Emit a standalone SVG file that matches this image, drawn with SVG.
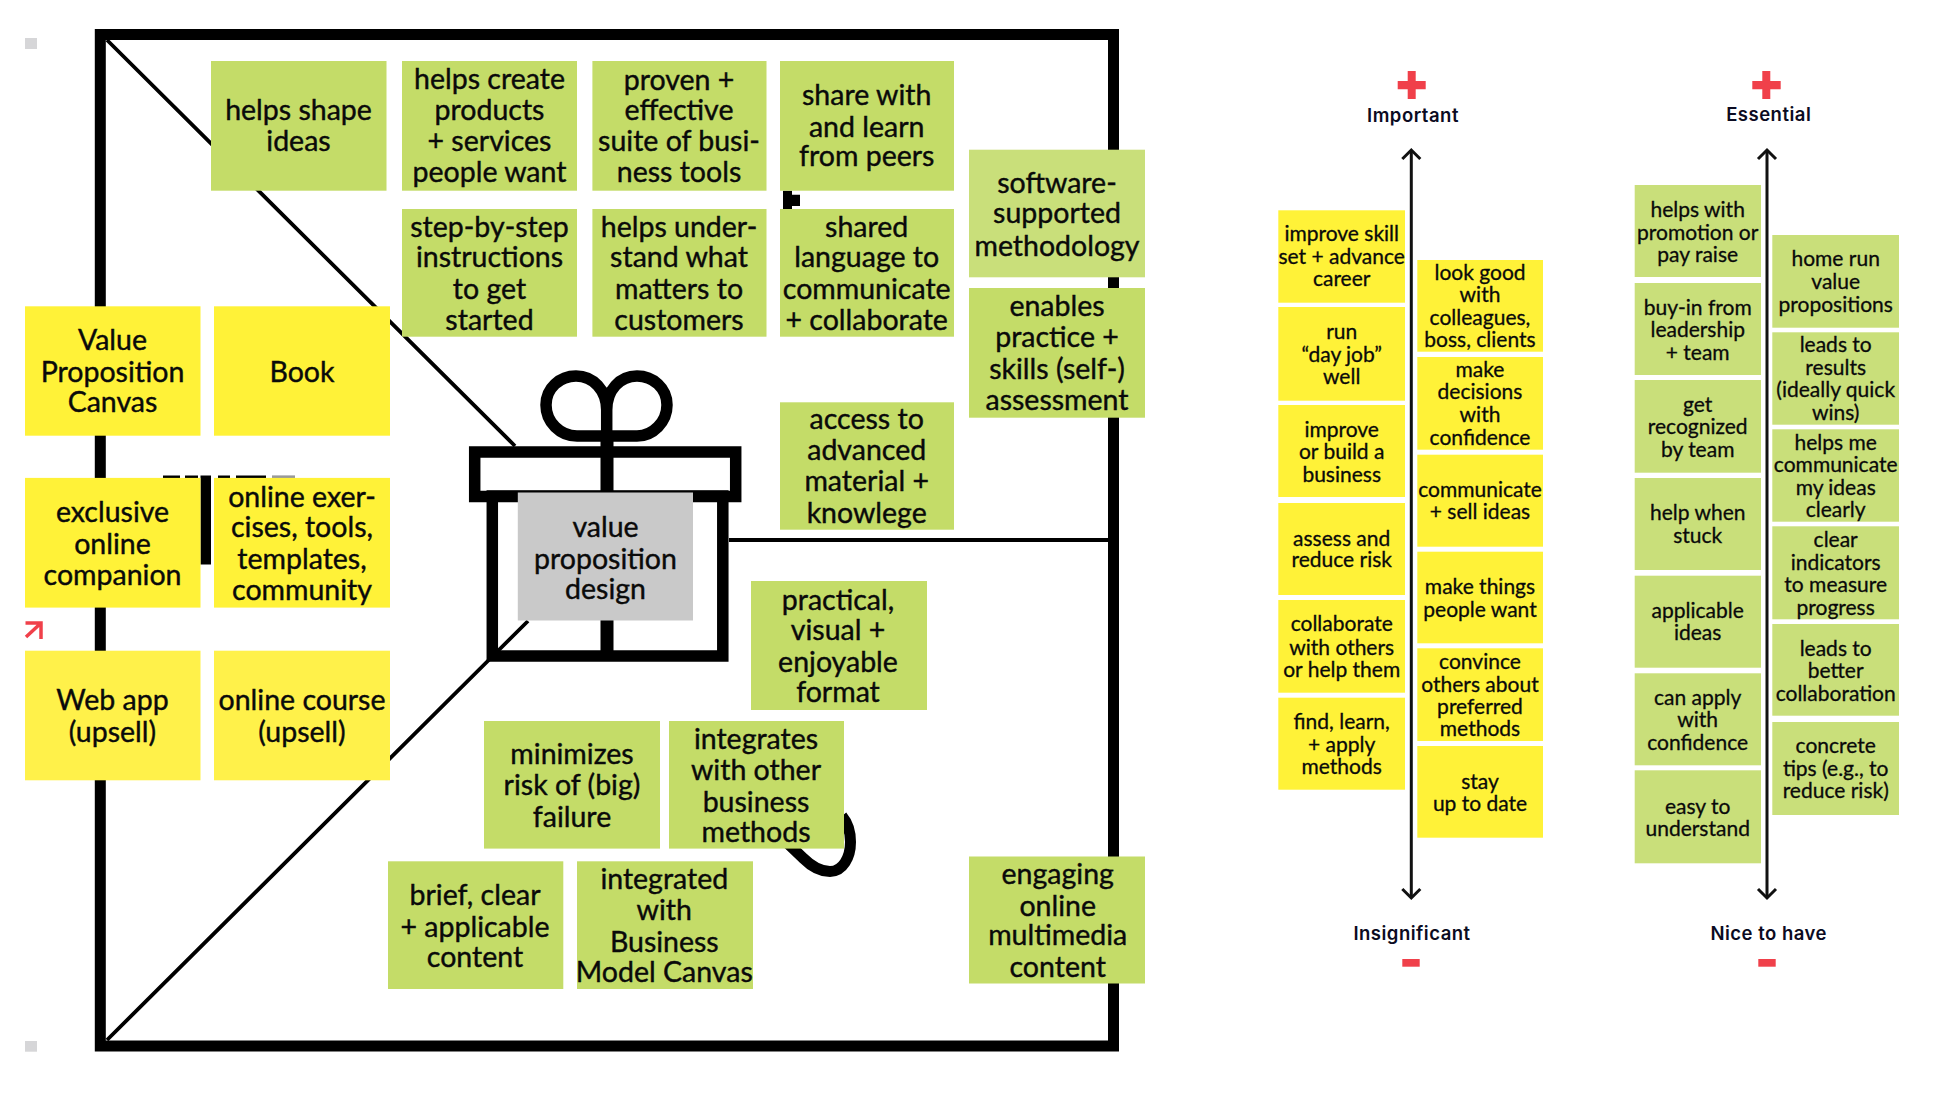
<svg xmlns="http://www.w3.org/2000/svg" width="1952" height="1094" viewBox="0 0 1952 1094">
<defs>
<style>
.g{fill:#c4dc68}.gl{fill:#c9df7a}.y{fill:#fff238}.yl{fill:#fff14a}.gr{fill:#c9c9c9}
.t{font-family:"Lato","Open Sans",sans-serif;font-size:28.5px;font-weight:400;fill:#0a0a0a;text-anchor:middle;stroke:#0a0a0a;stroke-width:.4px;transform:translateY(.7px)}
.s{font-size:21px;stroke-width:.3px}
.h{font-family:"Inter","Liberation Sans",sans-serif;font-size:18.5px;letter-spacing:.5px;font-weight:600;fill:#0b0b22;text-anchor:middle}
.k{fill:none;stroke:#000;stroke-width:11.5}
.l{fill:none;stroke:#000}
.a{fill:none;stroke:#111;stroke-width:3;marker-start:url(#head);marker-end:url(#head)}
.r{fill:#f0404a}
.sq{fill:#d6d6d8}
</style>
<marker id="head" markerUnits="userSpaceOnUse" markerWidth="24" markerHeight="24" viewBox="-12 -12 24 24" refX="0" refY="0" orient="auto-start-reverse"><path d="M-9-9L0 0L-9 9" fill="none" stroke="#111" stroke-width="3"/></marker>
</defs>
<rect width="1952" height="1094" fill="#fff"/>
<g id="connectors">
<rect class="k" style="stroke-width:11" x="100.3" y="34.5" width="1013.2" height="1011.5"/>
<path class="l" stroke-width="3.8" d="M107 40L515 446M107 1040L528 621"/>
<path class="l" stroke-width="4" d="M729 540H1108"/>
<line class="a" x1="1411.3" y1="150" x2="1411.3" y2="898"/>
<line class="a" x1="1767" y1="150" x2="1767" y2="898"/>
</g>
<g id="gift">
<path class="k" d="M606.7 436H577C560 436 546 422 546 405C546 388 560 376 576 376C593 376 606.7 390 606.7 410V436H637C653 436 667 422 667 405C667 388 653 376 637 376C620 376 606.7 390 606.7 410"/>
<rect x="600.5" y="436" width="13" height="220" fill="#000"/>
<rect class="k" x="474.7" y="452" width="261" height="44.5"/>
<rect class="k" x="492.3" y="496" width="230.5" height="160"/>
<path class="k" style="stroke-width:11" d="M780 836L803 858C813 868 823 871.5 830 871.5C843 871.5 850.5 857 850.5 842C850.5 832 847 822 842 816"/>
</g>
<g id="marks">
<rect class="sq" x="25" y="38" width="12" height="11"/>
<rect class="sq" x="25" y="1041" width="12" height="10.7"/>
<path d="M783 190.7h9v4h8v11.3h-8v3h-9z" fill="#000"/>
<path d="M200.5 475.4H211V564.5H200.5zM163 475.4h17v3.4h-17zM185 475.4h13v3.4h-13zM218 475.4h12v3.4h-12zM236 475.4h30v3.4h-30z" fill="#000"/>
<rect x="272" y="475.4" width="23" height="3.4" fill="#999"/>
<path d="M25.5 623H41V639M41 623L26 637" fill="none" stroke="#f0404a" stroke-width="3.5"/>
</g>
<g id="n1"><rect class="g" x="211" y="61" width="175.5" height="129.7"/><text class="t"><tspan x="298.5" y="119">helps shape</tspan><tspan x="298.5" y="150.7">ideas</tspan></text></g>
<g id="n2"><rect class="g" x="402" y="61" width="175" height="129.7"/><text class="t"><tspan x="489.5" y="88.3">helps create</tspan><tspan x="489.5" y="119">products</tspan><tspan x="489.5" y="150.7">+ services</tspan><tspan x="489.5" y="181">people want</tspan></text></g>
<g id="n3"><rect class="g" x="592.4" y="61" width="174.1" height="129.7"/><text class="t"><tspan x="679" y="89">proven +</tspan><tspan x="679" y="119">effective</tspan><tspan x="679" y="150.7">suite of busi-</tspan><tspan x="679" y="181">ness tools</tspan></text></g>
<g id="n4"><rect class="g" x="780" y="61" width="174" height="129.7"/><text class="t"><tspan x="866.7" y="104.3">share with</tspan><tspan x="866.7" y="136">and learn</tspan><tspan x="866.7" y="165.7">from peers</tspan></text></g>
<g id="n5"><rect class="g" x="402" y="209" width="175" height="127.7"/><text class="t"><tspan x="489.5" y="236">step-by-step</tspan><tspan x="489.5" y="266.7">instructions</tspan><tspan x="489.5" y="298">to get</tspan><tspan x="489.5" y="329">started</tspan></text></g>
<g id="n6"><rect class="g" x="592.4" y="209" width="174.1" height="127.7"/><text class="t"><tspan x="679" y="236">helps under-</tspan><tspan x="679" y="266.7">stand what</tspan><tspan x="679" y="298">matters to</tspan><tspan x="679" y="329">customers</tspan></text></g>
<g id="n7"><rect class="g" x="780" y="209" width="174" height="127.7"/><text class="t"><tspan x="866.7" y="236">shared</tspan><tspan x="866.7" y="266.7">language to</tspan><tspan x="866.7" y="298">communicate</tspan><tspan x="866.7" y="329">+ collaborate</tspan></text></g>
<g id="n8"><rect class="gl" x="969" y="149.7" width="176" height="127.6"/><text class="t"><tspan x="1057" y="192.7">software-</tspan><tspan x="1057" y="222.3">supported</tspan><tspan x="1057" y="255">methodology</tspan></text></g>
<g id="n9"><rect class="g" x="969" y="288" width="176" height="129.7"/><text class="t"><tspan x="1057" y="315">enables</tspan><tspan x="1057" y="346.7">practice +</tspan><tspan x="1057" y="378">skills (self-)</tspan><tspan x="1057" y="409.3">assessment</tspan></text></g>
<g id="n10"><rect class="g" x="780" y="402.3" width="174" height="127.4"/><text class="t"><tspan x="866.7" y="428">access to</tspan><tspan x="866.7" y="459.3">advanced</tspan><tspan x="866.7" y="490">material +</tspan><tspan x="866.7" y="522.6">knowlege</tspan></text></g>
<g id="n11"><rect class="y" x="25" y="306.3" width="175.5" height="129.4"/><text class="t"><tspan x="112.5" y="349">Value</tspan><tspan x="112.5" y="381">Proposition</tspan><tspan x="112.5" y="411.7">Canvas</tspan></text></g>
<g id="n12"><rect class="y" x="214" y="306.3" width="176" height="129.4"/><text class="t" x="302" y="381">Book</text></g>
<g id="n13"><rect class="y" x="25" y="477.9" width="175.5" height="129.7"/><text class="t"><tspan x="112.5" y="521.3">exclusive</tspan><tspan x="112.5" y="553.8">online</tspan><tspan x="112.5" y="584.3">companion</tspan></text></g>
<g id="n14"><rect class="y" x="214" y="477.9" width="176" height="129.7"/><text class="t"><tspan x="302" y="506">online exer-</tspan><tspan x="302" y="536.5">cises, tools,</tspan><tspan x="302" y="568.5">templates,</tspan><tspan x="302" y="599.5">community</tspan></text></g>
<g id="n15"><rect class="yl" x="25" y="650.7" width="175.5" height="129.6"/><text class="t"><tspan x="112.5" y="709">Web app</tspan><tspan x="112.5" y="741">(upsell)</tspan></text></g>
<g id="n16"><rect class="yl" x="214" y="650.7" width="176" height="129.6"/><text class="t"><tspan x="302" y="709">online course</tspan><tspan x="302" y="741">(upsell)</tspan></text></g>
<g id="n17"><rect class="gr" x="517.8" y="492.5" width="175.2" height="128"/><text class="t"><tspan x="605.5" y="536">value</tspan><tspan x="605.5" y="568">proposition</tspan><tspan x="605.5" y="598.5">design</tspan></text></g>
<g id="n18"><rect class="g" x="751" y="581" width="176" height="129"/><text class="t"><tspan x="838" y="609">practical,</tspan><tspan x="838" y="639.5">visual +</tspan><tspan x="838" y="671">enjoyable</tspan><tspan x="838" y="701.5">format</tspan></text></g>
<g id="n19"><rect class="g" x="484" y="721" width="176" height="127.6"/><text class="t"><tspan x="572" y="763">minimizes</tspan><tspan x="572" y="794">risk of (big)</tspan><tspan x="572" y="826.5">failure</tspan></text></g>
<g id="n20"><rect class="g" x="669" y="721" width="175" height="127.6"/><text class="t"><tspan x="756" y="748.5">integrates</tspan><tspan x="756" y="779.5">with other</tspan><tspan x="756" y="811">business</tspan><tspan x="756" y="841">methods</tspan></text></g>
<g id="n21"><rect class="g" x="388" y="861.3" width="175.3" height="127.7"/><text class="t"><tspan x="475" y="904.5">brief, clear</tspan><tspan x="475" y="936">+ applicable</tspan><tspan x="475" y="966.5">content</tspan></text></g>
<g id="n22"><rect class="g" x="577" y="861.3" width="176" height="127.7"/><text class="t"><tspan x="664.3" y="888.5">integrated</tspan><tspan x="664.3" y="919">with</tspan><tspan x="664.3" y="951">Business</tspan><tspan x="664.3" y="981.5">Model Canvas</tspan></text></g>
<g id="n23"><rect class="g" x="969" y="856.5" width="176" height="127"/><text class="t"><tspan x="1057.7" y="883">engaging</tspan><tspan x="1057.7" y="915">online</tspan><tspan x="1057.7" y="944.5">multimedia</tspan><tspan x="1057.7" y="976.5">content</tspan></text></g>
<g id="imp-head"><path class="r" d="M1407.7 71h8v10h10v8.3h-10V99h-8V89.3h-10V81h10z"/><text class="h" x="1413" y="121.5">Important</text></g>
<g id="imp-foot"><text class="h" x="1412" y="940">Insignificant</text><rect class="r" x="1402.3" y="959" width="17.4" height="7.7"/></g>
<g id="ess-head"><path class="r" d="M1762.3 71h8v10h10.4v8.3h-10.4V99h-8V89.3h-10V81h10z"/><text class="h" x="1768.7" y="121">Essential</text></g>
<g id="ess-foot"><text class="h" x="1768.7" y="940">Nice to have</text><rect class="r" x="1758.3" y="959" width="17.4" height="7.7"/></g>
<g id="a1"><rect class="y" x="1278.3" y="210.3" width="126.7" height="92.4"/><text class="t s"><tspan x="1341.7" y="240.7">improve skill</tspan><tspan x="1341.7" y="263.3">set + advance</tspan><tspan x="1341.7" y="285.7">career</tspan></text></g>
<g id="a2"><rect class="y" x="1278.3" y="307" width="126.7" height="93.7"/><text class="t s"><tspan x="1341.7" y="338">run</tspan><tspan x="1341.7" y="361.7">“day job”</tspan><tspan x="1341.7" y="383">well</tspan></text></g>
<g id="a3"><rect class="y" x="1278.3" y="405" width="126.7" height="92"/><text class="t s"><tspan x="1341.7" y="436.7">improve</tspan><tspan x="1341.7" y="458">or build a</tspan><tspan x="1341.7" y="481">business</tspan></text></g>
<g id="a4"><rect class="y" x="1278.3" y="503" width="126.7" height="92"/><text class="t s"><tspan x="1341.7" y="545">assess and</tspan><tspan x="1341.7" y="566.7">reduce risk</tspan></text></g>
<g id="a5"><rect class="y" x="1278.3" y="600" width="126.7" height="92.7"/><text class="t s"><tspan x="1341.7" y="630.7">collaborate</tspan><tspan x="1341.7" y="654">with others</tspan><tspan x="1341.7" y="676">or help them</tspan></text></g>
<g id="a6"><rect class="y" x="1278.3" y="697.7" width="126.7" height="92"/><text class="t s"><tspan x="1341.7" y="728.3">find, learn,</tspan><tspan x="1341.7" y="751">+ apply</tspan><tspan x="1341.7" y="773.3">methods</tspan></text></g>
<g id="b1"><rect class="y" x="1417.3" y="260" width="125.7" height="91.7"/><text class="t s"><tspan x="1480" y="279">look good</tspan><tspan x="1480" y="301.7">with</tspan><tspan x="1480" y="324">colleagues,</tspan><tspan x="1480" y="346.7">boss, clients</tspan></text></g>
<g id="b2"><rect class="y" x="1417.3" y="357" width="125.7" height="92.7"/><text class="t s"><tspan x="1480" y="376.7">make</tspan><tspan x="1480" y="398.7">decisions</tspan><tspan x="1480" y="421.7">with</tspan><tspan x="1480" y="444">confidence</tspan></text></g>
<g id="b3"><rect class="y" x="1417.3" y="454.7" width="125.7" height="92"/><text class="t s"><tspan x="1480" y="496.7">communicate</tspan><tspan x="1480" y="518.3">+ sell ideas</tspan></text></g>
<g id="b4"><rect class="y" x="1417.3" y="551.7" width="125.7" height="91.6"/><text class="t s"><tspan x="1480" y="593.3">make things</tspan><tspan x="1480" y="616">people want</tspan></text></g>
<g id="b5"><rect class="y" x="1417.3" y="648.3" width="125.7" height="92.7"/><text class="t s"><tspan x="1480" y="668.3">convince</tspan><tspan x="1480" y="691">others about</tspan><tspan x="1480" y="713.3">preferred</tspan><tspan x="1480" y="735.7">methods</tspan></text></g>
<g id="b6"><rect class="y" x="1417.3" y="746" width="125.7" height="91.7"/><text class="t s"><tspan x="1480" y="788.3">stay</tspan><tspan x="1480" y="810">up to date</tspan></text></g>
<g id="c1"><rect class="gl" x="1634.7" y="185" width="126.3" height="92"/><text class="t s"><tspan x="1697.7" y="216">helps with</tspan><tspan x="1697.7" y="239">promotion or</tspan><tspan x="1697.7" y="261.7">pay raise</tspan></text></g>
<g id="c2"><rect class="gl" x="1634.7" y="283" width="126.3" height="92"/><text class="t s"><tspan x="1697.7" y="314">buy-in from</tspan><tspan x="1697.7" y="336">leadership</tspan><tspan x="1697.7" y="359">+ team</tspan></text></g>
<g id="c3"><rect class="gl" x="1634.7" y="380" width="126.3" height="92.7"/><text class="t s"><tspan x="1697.7" y="411">get</tspan><tspan x="1697.7" y="433.3">recognized</tspan><tspan x="1697.7" y="456">by team</tspan></text></g>
<g id="c4"><rect class="gl" x="1634.7" y="478" width="126.3" height="92"/><text class="t s"><tspan x="1697.7" y="519.3">help when</tspan><tspan x="1697.7" y="542.7">stuck</tspan></text></g>
<g id="c5"><rect class="gl" x="1634.7" y="575.7" width="126.3" height="92"/><text class="t s"><tspan x="1697.7" y="617.3">applicable</tspan><tspan x="1697.7" y="639.3">ideas</tspan></text></g>
<g id="c6"><rect class="gl" x="1634.7" y="673.3" width="126.3" height="92"/><text class="t s"><tspan x="1697.7" y="704">can apply</tspan><tspan x="1697.7" y="726">with</tspan><tspan x="1697.7" y="749">confidence</tspan></text></g>
<g id="c7"><rect class="gl" x="1634.7" y="770.3" width="126.3" height="93"/><text class="t s"><tspan x="1697.7" y="813.3">easy to</tspan><tspan x="1697.7" y="835">understand</tspan></text></g>
<g id="d1"><rect class="gl" x="1772.3" y="235" width="126.7" height="92.7"/><text class="t s"><tspan x="1835.7" y="265">home run</tspan><tspan x="1835.7" y="288.3">value</tspan><tspan x="1835.7" y="311">propositions</tspan></text></g>
<g id="d2"><rect class="gl" x="1772.3" y="332.3" width="126.7" height="92.4"/><text class="t s"><tspan x="1835.7" y="351.7">leads to</tspan><tspan x="1835.7" y="374">results</tspan><tspan x="1835.7" y="396.7">(ideally quick</tspan><tspan x="1835.7" y="419">wins)</tspan></text></g>
<g id="d3"><rect class="gl" x="1772.3" y="429.3" width="126.7" height="92.4"/><text class="t s"><tspan x="1835.7" y="449">helps me</tspan><tspan x="1835.7" y="471.3">communicate</tspan><tspan x="1835.7" y="494">my ideas</tspan><tspan x="1835.7" y="516">clearly</tspan></text></g>
<g id="d4"><rect class="gl" x="1772.3" y="526.3" width="126.7" height="93"/><text class="t s"><tspan x="1835.7" y="546.7">clear</tspan><tspan x="1835.7" y="569">indicators</tspan><tspan x="1835.7" y="591">to measure</tspan><tspan x="1835.7" y="614.3">progress</tspan></text></g>
<g id="d5"><rect class="gl" x="1772.3" y="624" width="126.7" height="91.7"/><text class="t s"><tspan x="1835.7" y="655">leads to</tspan><tspan x="1835.7" y="677.3">better</tspan><tspan x="1835.7" y="700">collaboration</tspan></text></g>
<g id="d6"><rect class="gl" x="1772.3" y="722" width="126.7" height="93"/><text class="t s"><tspan x="1835.7" y="752.7">concrete</tspan><tspan x="1835.7" y="775.7">tips (e.g., to</tspan><tspan x="1835.7" y="797.3">reduce risk)</tspan></text></g>
</svg>
